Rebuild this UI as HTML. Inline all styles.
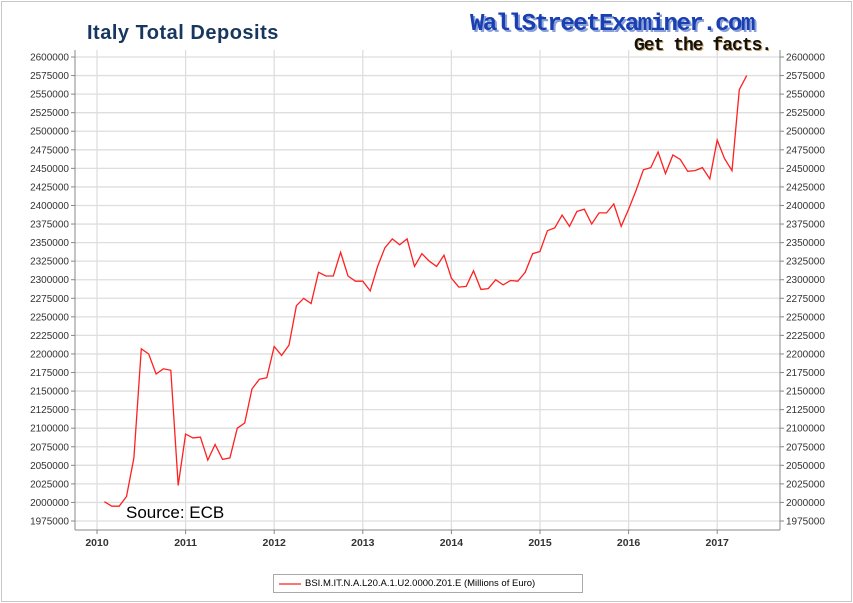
<!DOCTYPE html>
<html><head><meta charset="utf-8"><style>
body{margin:0;background:#fff;}
#wrap{position:relative;width:853px;height:603px;overflow:hidden;font-family:"Liberation Sans",sans-serif;}
#frame{position:absolute;left:1px;top:1px;width:849px;height:599px;border:1px solid #c8c8c8;}
#title{position:absolute;left:87px;top:22px;font-size:20px;font-weight:bold;color:#17375e;letter-spacing:0.5px;}
#logo{position:absolute;left:470px;top:11px;font-family:"Liberation Mono",monospace;font-weight:bold;font-size:24px;color:#1a3fb0;text-shadow:2px 2px 0 #8aa0d8;letter-spacing:-1.5px;}
#tag{position:absolute;left:634px;top:36px;font-family:"Liberation Mono",monospace;font-weight:bold;font-size:18px;color:#111;text-shadow:1px 1px 0 #c9a060;letter-spacing:-1px;}
#src{position:absolute;left:126px;top:503px;font-size:17px;color:#000;}
#legend{position:absolute;left:273px;top:574px;width:308px;height:17px;border:1px solid #aaa;font-size:9.5px;color:#000;line-height:17px;}
</style></head><body>
<div id="wrap">
<div id="frame"></div>
<svg id="chart" width="853" height="603" style="position:absolute;left:0;top:0"></svg>
<div id="title">Italy Total Deposits</div>
<div id="logo">WallStreetExaminer.com</div>
<div id="tag">Get the facts.</div>
<div id="src">Source: ECB</div>
<div id="legend"><svg width="22" height="17" style="position:absolute;left:5px;top:0"><line x1="0" y1="9" x2="22" y2="9" stroke="#ff2020" stroke-width="1.3"/></svg><span style="position:absolute;left:31px">BSI.M.IT.N.A.L20.A.1.U2.0000.Z01.E (Millions of Euro)</span></div>
</div>
<script>
const yearTicks=[2010,2011,2012,2013,2014,2015,2016,2017];
const yTicks=[];for(let v=1975000;v<=2600000;v+=25000)yTicks.push(v);
const startYear=2010,startMonth=2;
const values=[2001000,1995000,1995000,2008000,2060000,2207000,2200000,2173000,2180000,2178000,2023000,
2092000,2087000,2088000,2057000,2078000,2058000,2060000,2100000,2107000,2153000,2166000,2168000,
2210000,2198000,2212000,2265000,2275000,2268000,2310000,2305000,2305000,2337000,2305000,2298000,
2298000,2285000,2318000,2343000,2355000,2347000,2355000,2318000,2335000,2325000,2318000,2333000,
2302000,2290000,2291000,2312000,2287000,2288000,2300000,2293000,2299000,2298000,2310000,2335000,
2338000,2366000,2370000,2387000,2372000,2392000,2395000,2375000,2390000,2390000,2402000,2372000,
2395000,2420000,2448000,2451000,2472000,2443000,2468000,2462000,2446000,2447000,2451000,2436000,
2488000,2463000,2447000,2556000,2575000];
const svg=document.getElementById('chart');const NS='http://www.w3.org/2000/svg';
const L=75,R=780,T=50,B=530;
const X=t=>97+(t-2010)*88.6;
const Y=v=>57+(2600000-v)/25000*18.56;
function mk(tag,attrs){const e=document.createElementNS(NS,tag);for(const k in attrs)e.setAttribute(k,attrs[k]);svg.appendChild(e);return e;}
yTicks.forEach(v=>{const y=Y(v);
 const g=mk('line',{x1:L,x2:R,y1:y,y2:y,stroke:'#dedede','stroke-width':1.3});
 
 
 [[L-4,L],[R,R+4]].forEach(p=>{const t=mk('line',{x1:p[0],x2:p[1],y1:y,y2:y,stroke:'#888'});});
 const a=mk('text',{x:L-6,y:y+3.5,'text-anchor':'end','font-size':10,fill:'#333','font-family':'Liberation Sans,sans-serif'});a.textContent=v;
 
 
 const b=mk('text',{x:R+6,y:y+3.5,'font-size':10,fill:'#333','font-family':'Liberation Sans,sans-serif'});b.textContent=v;
 
 
});
yearTicks.forEach(yr=>{const x=X(yr);
 const g=mk('line',{x1:x,x2:x,y1:T,y2:B,stroke:'#dedede','stroke-width':1.3});
 
 
 const t=mk('line',{x1:x,x2:x,y1:B,y2:B+4,stroke:'#888'});
 const l=mk('text',{x:x,y:B+16,'text-anchor':'middle','font-size':10.5,'font-weight':'bold',fill:'#333','font-family':'Liberation Sans,sans-serif'});l.textContent=yr;
 
 
});
[[L,T,L,B],[R,T,R,B],[L,B,R,B]].forEach(a=>{const e=mk('line',{x1:a[0],y1:a[1],x2:a[2],y2:a[3],stroke:'#888'});});
const pts=values.map((v,i)=>{const t=startYear+(startMonth-1+i)/12;return X(t).toFixed(1)+','+Y(v).toFixed(1);}).join(' ');
const line=mk('polyline',{points:pts,fill:'none',stroke:'#ff2020','stroke-width':1.3});


</script>
</body></html>
